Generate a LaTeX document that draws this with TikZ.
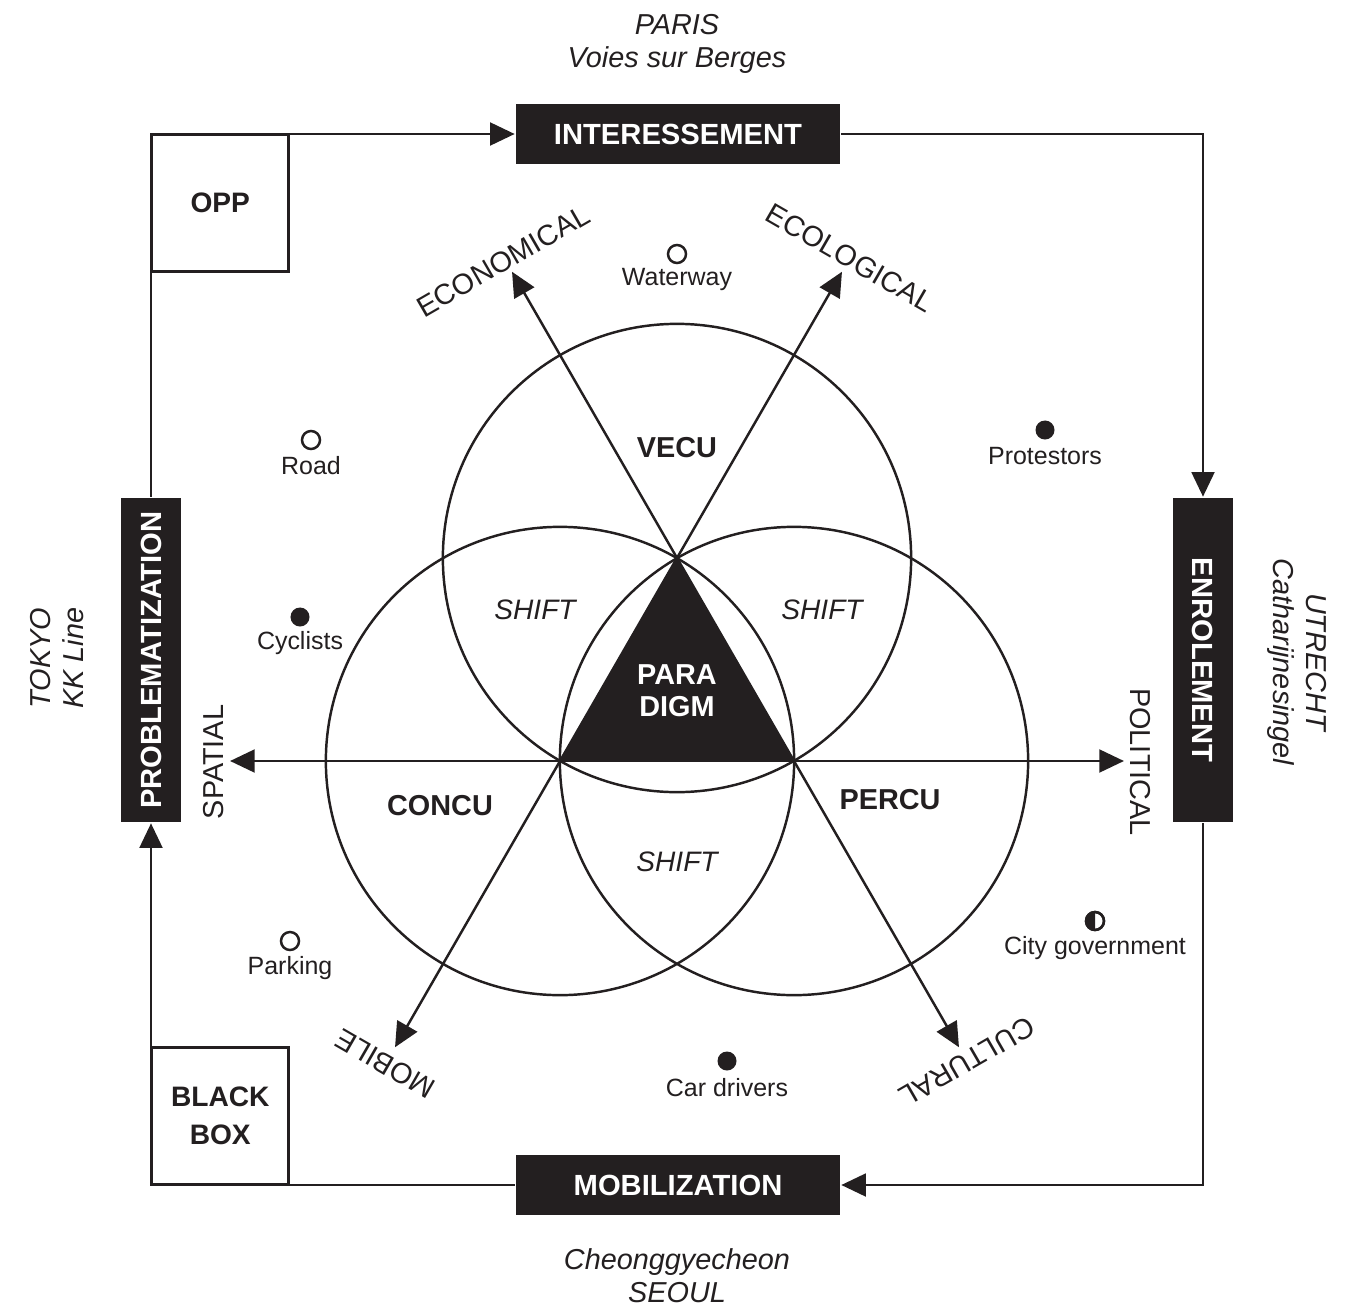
\documentclass[tikz,border=0pt]{standalone}
\usepackage{fontspec}
\setmainfont{Liberation Sans}
\usetikzlibrary{arrows.meta,calc}
\definecolor{ink}{HTML}{231F20}

\begin{document}
\begin{tikzpicture}[x=0.01cm,y=-0.01cm,line width=0.7pt,color=ink,
  stage/.style={fill=ink,text=white,inner sep=0pt,minimum width=3.24cm,minimum height=0.59cm,font=\bfseries\fontsize{8.3}{10}\selectfont},
  gate/.style={draw,fill=white,inner sep=0pt,minimum width=1.36cm,minimum height=1.36cm,align=center,font=\bfseries\fontsize{8}{10.8}\selectfont},
  sphere/.style={font=\bfseries\fontsize{8.2}{9.1}\selectfont},
  shiftlabel/.style={font=\itshape\fontsize{8}{10}\selectfont},
  axis/.style={font=\fontsize{8.2}{10}\selectfont},
  city/.style={align=center,font=\itshape\fontsize{8.2}{9.3}\selectfont},
  actor/.style={font=\fontsize{7.1}{9}\selectfont},
  opendot/.style={circle,draw,fill=white,inner sep=0pt,outer sep=0pt,minimum size=0.18cm},
  fulldot/.style={circle,fill,inner sep=0pt,minimum size=0.19cm},
  oneway/.style={-{Triangle[length=7pt,width=6.5pt]}},
  twoway/.style={{Triangle[length=7pt,width=6.5pt]}-{Triangle[length=7pt,width=6.5pt]}}]
\useasboundingbox (0,0) rectangle (1363,1309);

% the four stages
\node[stage] (interes) at (678,134) {INTERESSEMENT};
\node[stage] (mobil) at (678,1185) {MOBILIZATION};
\node[stage,rotate=90] (problem) at (151,660) {PROBLEMATIZATION};
\node[stage,rotate=-90] (enrol) at (1203,660) {ENROLEMENT};

\draw[oneway] (problem.east) |- (interes.west);
\draw[oneway] (interes.east) -| (enrol.west);
\draw[oneway] (enrol.east) |- (mobil.east);
\draw[oneway] (mobil.west) -| (problem.west);

\node[gate,anchor=north west] (opp) at (151,134) {OPP};
\node[gate,anchor=south west] (blackbox) at (151,1185) {BLACK\\BOX};

% cities
\node[city] (paris) at (677,44) {PARIS\\Voies sur Berges};
\node[city] (seoul) at (677,1276) {Cheonggyecheon\\SEOUL};
\node[city,rotate=90] (tokyo) at (57,658) {TOKYO\\KK Line};
\node[city,rotate=-90] (utrecht) at (1297,662) {UTRECHT\\Catharijnesingel};

% circles and axes
\coordinate (A) at (677,558);
\coordinate (B) at (560,761);
\coordinate (C) at (794,761);
\draw (A) circle[radius=2.34cm];
\draw (B) circle[radius=2.34cm];
\draw (C) circle[radius=2.34cm];

\coordinate (spatial) at ($(B)!-1.41!(C)$);
\coordinate (political) at ($(C)!-1.41!(B)$);
\coordinate (economical) at ($(A)!-1.41!(C)$);
\coordinate (cultural) at ($(C)!-1.41!(A)$);
\coordinate (ecological) at ($(A)!-1.41!(B)$);
\coordinate (mobile) at ($(B)!-1.41!(A)$);
\draw[twoway] (spatial) -- (political);
\draw[twoway] (economical) -- (cultural);
\draw[twoway] (ecological) -- (mobile);
\fill (A) -- (B) -- (C) -- cycle;

\node[sphere,text=white,align=center] (paradigm) at (677,691) {PARA\\DIGM};
\node[sphere] (vecu) at (677,448) {VECU};
\node[sphere] (concu) at (440,806) {CONCU};
\node[sphere] (percu) at (890,800) {PERCU};
\node[shiftlabel] (shiftl) at (535,610) {SHIFT};
\node[shiftlabel] (shiftr) at (822,610) {SHIFT};
\node[shiftlabel] (shiftb) at (677,862) {SHIFT};

\node[axis,rotate=30] (econ) at (503,261) {ECONOMICAL};
\node[axis,rotate=-30] (ecol) at (850,258) {ECOLOGICAL};
\node[axis,rotate=90] (spat) at (214,762) {SPATIAL};
\node[axis,rotate=-90] (poli) at (1140,762) {POLITICAL};
\node[axis,rotate=150] (mobi) at (385,1064) {MOBILE};
\node[axis,rotate=210] (cult) at (967,1062) {CULTURAL};

% actors
\node[opendot] (waterway) at (677,254) {};
\node[actor] at (677,280) {Waterway};
\node[opendot] (road) at (311,440) {};
\node[actor] at (311,466) {Road};
\node[fulldot] (protestors) at (1045,430) {};
\node[actor] at (1045,456) {Protestors};
\node[fulldot] (cyclists) at (300,617) {};
\node[actor] at (300,643) {Cyclists};
\node[opendot] (parking) at (290,941) {};
\node[actor] at (290,968) {Parking};
\node[fulldot] (cardrivers) at (727,1061) {};
\node[actor] at (727,1088) {Car drivers};
\node[opendot] (citygov) at (1095,921) {};
\fill (citygov.north) arc[start angle=90,end angle=270,radius=0.09cm] -- cycle;
\draw (citygov.center) circle[radius=0.09cm];
\node[actor] at (1095,948) {City government};
\end{tikzpicture}
\end{document}
